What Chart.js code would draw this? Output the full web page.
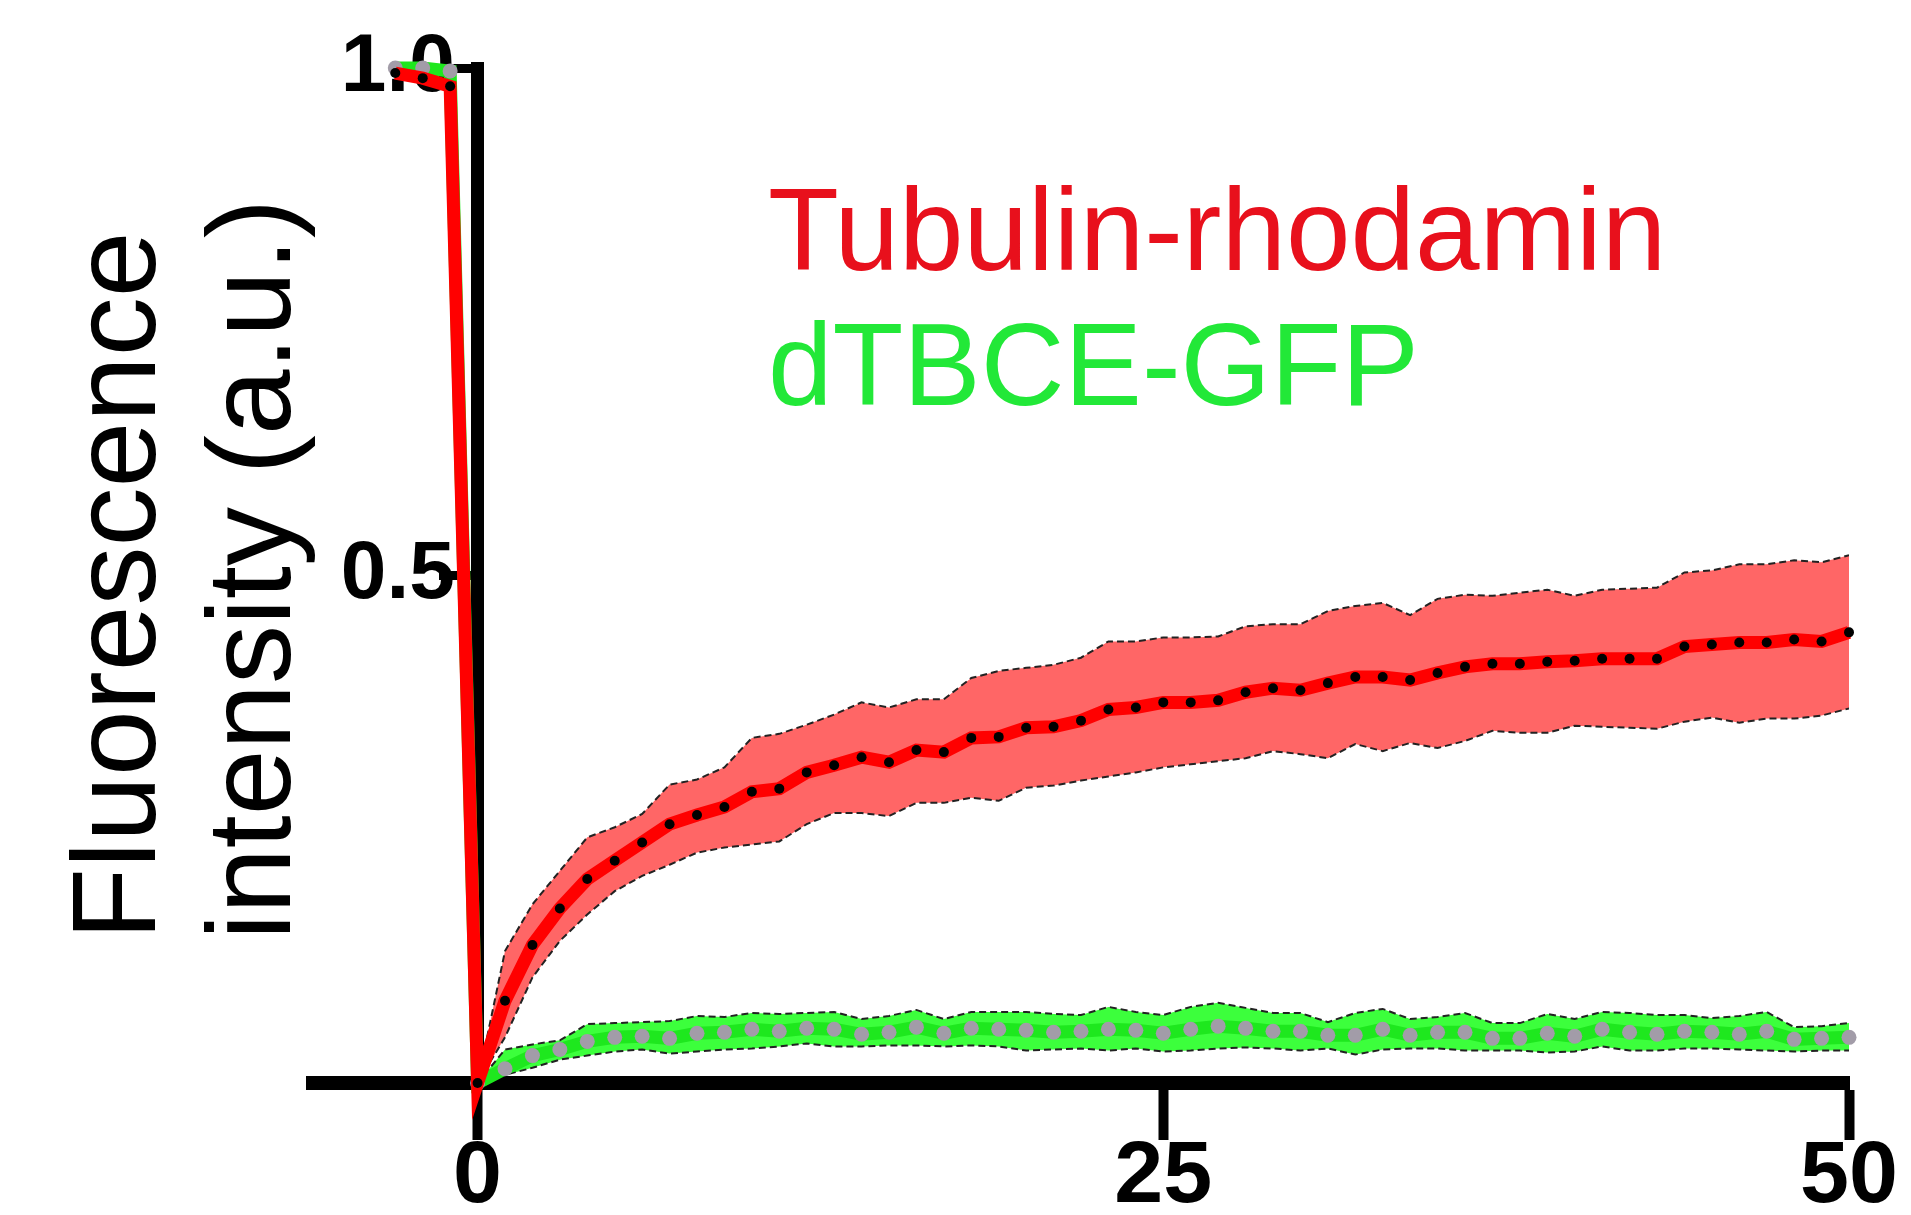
<!DOCTYPE html>
<html>
<head>
<meta charset="utf-8">
<script src="https://cdn.jsdelivr.net/npm/chart.js@4.4.1/dist/chart.umd.min.js"></script>
<style>
  html, body { margin: 0; padding: 0; background: #fff; }
  #wrap { width: 1911px; height: 1215px; position: relative; }
</style>
</head>
<body>
<div id="wrap"><canvas id="frapChart"></canvas></div>
<script>
// time points (s): 3 pre-bleach points, bleach at 0, then recovery
const timePoints = [-3, -2, -1, 0,
  1, 2, 3, 4, 5, 6, 7, 8, 9, 10, 11, 12, 13, 14, 15, 16, 17, 18, 19, 20, 21, 22, 23, 24, 25,
  26, 27, 28, 29, 30, 31, 32, 33, 34, 35, 36, 37, 38, 39, 40, 41, 42, 43, 44, 45, 46, 47, 48, 49, 50];

const seriesNames = ["Tubulin-rhodamin", "dTBCE-GFP"];
const yTitleLines = ["Fluorescence", "intensity (a.u.)"];
const xTicks = [0, 25, 50];
const yTicks = [0.5, 1.0];

// Tubulin-rhodamin: mean, upper and lower bound of the band
const redMean = [0.995, 0.990, 0.982, 0,
  0.081, 0.136, 0.172, 0.201, 0.219, 0.237, 0.255, 0.264, 0.272, 0.287,
  0.290, 0.306, 0.313, 0.321, 0.316, 0.328, 0.326, 0.340, 0.341, 0.350,
  0.351, 0.357, 0.368, 0.370, 0.375, 0.375, 0.377, 0.385, 0.389, 0.387,
  0.394, 0.400, 0.400, 0.397, 0.404, 0.410, 0.413, 0.413, 0.415, 0.416,
  0.418, 0.418, 0.418, 0.430, 0.432, 0.434, 0.434, 0.437, 0.435, 0.444];
const redUpper = [0.995, 0.990, 0.982, 0,
  0.130, 0.176, 0.209, 0.242, 0.252, 0.265, 0.294, 0.299, 0.311, 0.340,
  0.344, 0.353, 0.363, 0.375, 0.370, 0.378, 0.378, 0.399, 0.406, 0.409,
  0.412, 0.419, 0.435, 0.435, 0.439, 0.439, 0.440, 0.450, 0.452, 0.452,
  0.465, 0.470, 0.473, 0.461, 0.477, 0.481, 0.480, 0.483, 0.486, 0.480,
  0.486, 0.487, 0.488, 0.503, 0.505, 0.511, 0.511, 0.515, 0.513, 0.520];
const redLower = [0.995, 0.990, 0.982, 0,
  0.045, 0.104, 0.140, 0.166, 0.189, 0.204, 0.215, 0.227, 0.232, 0.235,
  0.238, 0.255, 0.266, 0.266, 0.263, 0.276, 0.276, 0.281, 0.278, 0.291,
  0.293, 0.298, 0.302, 0.306, 0.311, 0.314, 0.317, 0.320, 0.327, 0.324,
  0.320, 0.334, 0.327, 0.335, 0.330, 0.337, 0.347, 0.345, 0.345, 0.352,
  0.351, 0.350, 0.349, 0.356, 0.360, 0.355, 0.359, 0.359, 0.362, 0.369];

// dTBCE-GFP
const greenMean = [1.0, 1.0, 0.997, 0,
  0.014, 0.027, 0.033, 0.041, 0.045, 0.046, 0.044, 0.049, 0.050, 0.053,
  0.051, 0.054, 0.053, 0.048, 0.050, 0.055, 0.049, 0.054, 0.053, 0.052,
  0.050, 0.051, 0.053, 0.052, 0.049, 0.053, 0.056, 0.054, 0.051, 0.051,
  0.047, 0.047, 0.053, 0.047, 0.050, 0.050, 0.044, 0.044, 0.049, 0.046,
  0.053, 0.050, 0.048, 0.051, 0.050, 0.048, 0.051, 0.043, 0.044, 0.045];
const greenUpper = [1.0, 1.0, 0.997, 0,
  0.033, 0.038, 0.042, 0.058, 0.059, 0.060, 0.061, 0.066, 0.065, 0.069,
  0.068, 0.069, 0.070, 0.063, 0.066, 0.072, 0.063, 0.070, 0.070, 0.070,
  0.068, 0.067, 0.075, 0.070, 0.067, 0.075, 0.079, 0.074, 0.069, 0.069,
  0.060, 0.069, 0.073, 0.063, 0.065, 0.069, 0.059, 0.059, 0.068, 0.063,
  0.070, 0.069, 0.067, 0.067, 0.064, 0.066, 0.070, 0.055, 0.056, 0.059];
const greenLower = [1.0, 1.0, 0.997, 0,
  0.008, 0.015, 0.023, 0.027, 0.031, 0.033, 0.029, 0.031, 0.033, 0.034,
  0.036, 0.039, 0.036, 0.036, 0.037, 0.037, 0.036, 0.037, 0.036, 0.032,
  0.033, 0.034, 0.032, 0.034, 0.031, 0.032, 0.034, 0.035, 0.034, 0.032,
  0.034, 0.028, 0.033, 0.034, 0.034, 0.032, 0.032, 0.032, 0.030, 0.031,
  0.036, 0.032, 0.032, 0.034, 0.034, 0.033, 0.032, 0.031, 0.032, 0.032];

const xy = arr => arr.map((v, i) => ({x: timePoints[i], y: v}));

const FONT = '"Liberation Sans", Arial, sans-serif';
const RED = '#ff0000';
const GREEN = '#1ee81e';
const legendColors = ['#e8101c', '#22e838'];

// legend text and rotated axis title
const textPlugin = {
    id: 'texts',
    afterDraw(chart) {
        const c = chart.ctx;
        c.save();
        c.font = '116px ' + FONT;
        c.textAlign = 'left';
        c.textBaseline = 'alphabetic';
        c.fillStyle = legendColors[0];
        c.fillText(chart.data.datasets[0].label, 768, 270);
        c.fillStyle = legendColors[1];
        c.fillText(chart.data.datasets[1].label, 768, 405);

        c.fillStyle = '#000';
        c.font = '118px ' + FONT;
        const xs = [155, 290];
        yTitleLines.forEach((line, i) => {
            c.save();
            c.translate(xs[i], 940);
            c.rotate(-Math.PI / 2);
            c.fillText(line, 0, 0);
            c.restore();
        });
        c.restore();
    }
};

const bandLine = {
    borderColor: '#222',
    borderWidth: 2,
    borderDash: [7, 4],
    pointRadius: 0,
    tension: 0
};

const ctx = document.getElementById('frapChart').getContext('2d');
new Chart(ctx, {
    type: 'line',
    data: {
        datasets: [
            {
                label: seriesNames[0],
                data: xy(redMean),
                borderColor: RED,
                borderWidth: 13,
                pointRadius: 5,
                pointBorderWidth: 0,
                pointBackgroundColor: '#000',
                tension: 0,
                clip: false,
                order: 0
            },
            {
                label: seriesNames[1],
                data: xy(greenMean),
                borderColor: GREEN,
                borderWidth: 13,
                pointRadius: 7.5,
                pointBorderWidth: 0,
                pointBackgroundColor: '#a29ca8',
                tension: 0,
                clip: false,
                order: 1
            },
            { ...bandLine, label: 'red upper', data: xy(redUpper), fill: '+1', backgroundColor: '#ff6666', order: 3 },
            { ...bandLine, label: 'red lower', data: xy(redLower), fill: false, order: 2 },
            { ...bandLine, label: 'green upper', data: xy(greenUpper), fill: '+1', backgroundColor: '#3cff3c', order: 5 },
            { ...bandLine, label: 'green lower', data: xy(greenLower), fill: false, order: 4 }
        ]
    },
    options: {
        responsive: true,
        maintainAspectRatio: false,
        animation: false,
        layout: { padding: { left: 313, top: 68, right: 62, bottom: 0 } },
        plugins: {
            legend: { display: false },
            tooltip: { enabled: false }
        },
        scales: {
            x: {
                type: 'linear',
                min: -6,
                max: 50,
                afterBuildTicks: s => { s.ticks = xTicks.map(v => ({value: v})); },
                afterFit: s => { s.height = 132; },
                border: { display: true, color: '#000', width: 14 },
                grid: { display: true, drawOnChartArea: false, drawTicks: true, tickLength: 57, tickWidth: 10, tickColor: '#000' },
                ticks: {
                    color: '#000',
                    padding: -6,
                    maxRotation: 0,
                    autoSkip: false,
                    font: { family: '"Liberation Sans Narrow", ' + FONT, size: 88, weight: 'bold', lineHeight: 1 }
                }
            },
            y: {
                min: 0,
                max: 1,
                position: { x: 0 },
                afterBuildTicks: s => { s.ticks = yTicks.map(v => ({value: v})); },
                border: { display: true, color: '#000', width: 13 },
                grid: { display: true, drawOnChartArea: false, drawTicks: true, tickLength: 32, tickWidth: 9, tickColor: '#000' },
                ticks: {
                    color: '#000',
                    // axis sits at x = 0, padding is not applied there, so a trailing space keeps the label clear of the tick
                    callback: v => v.toFixed(1) + ' ',
                    font: { family: FONT, size: 82, weight: 'bold', lineHeight: 1 }
                }
            }
        }
    },
    plugins: [textPlugin]
});
</script>
</body>
</html>
